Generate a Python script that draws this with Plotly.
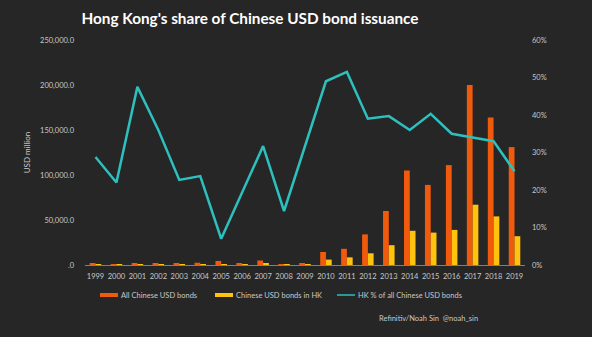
import plotly.graph_objects as go

years = [str(y) for y in range(1999, 2020)]
all_bonds = [2000, 1000, 1800, 1200, 1800, 2500, 4500, 1500, 5000, 600, 1500,
             14500, 18000, 34000, 60000, 105000, 89000, 111000, 200000, 164000, 131000]
hk_bonds = [600, 250, 800, 400, 400, 600, 300, 300, 1500, 100, 500,
            6000, 8500, 13000, 22000, 38000, 36000, 39000, 67000, 54000, 32000]
hk_pct = [28.8, 22.0, 47.5, 36.0, 22.7, 23.7, 7.0, 19.5, 31.7, 14.4, 31.5,
          49.0, 51.5, 39.0, 39.7, 36.0, 40.3, 35.0, 34.0, 33.0, 25.0]

left_ticks = [0, 50000, 100000, 150000, 200000, 250000]
left_text = [".0", "50,000.0", "100,000.0", "150,000.0", "200,000.0", "250,000.0"]
right_ticks = [0, 10, 20, 30, 40, 50, 60]
right_text = ["0%", "10%", "20%", "30%", "40%", "50%", "60%"]

ORANGE = "#F05A0C"
YELLOW = "#FFC20E"
TEAL = "#2EBFBF"
TXT = "#C8C8C8"
FONT = "Lato"

L, R, T, B, W, H = 85, 67, 40, 72, 592, 337
PW, PH = W - L - R, H - T - B


def px(x):
    return (x - L) / PW


def py(y):
    return (H - B - y) / PH


fig = go.Figure()
fig.add_trace(go.Bar(x=years, y=all_bonds, name="All Chinese USD bonds",
                     marker=dict(color=ORANGE, line=dict(width=0))))
fig.add_trace(go.Bar(x=years, y=hk_bonds, name="Chinese USD bonds in HK",
                     marker=dict(color=YELLOW, line=dict(width=0))))
fig.add_trace(go.Scatter(x=years, y=hk_pct, name="HK % of all Chinese USD bonds",
                         mode="lines", yaxis="y2",
                         line=dict(color=TEAL, width=2.5)))

fig.update_layout(
    width=W, height=H,
    paper_bgcolor="#262626", plot_bgcolor="#262626",
    margin=dict(l=L, r=R, t=T, b=B),
    barmode="group", bargap=0.45, bargroupgap=0,
    showlegend=False,
    title=dict(text="<b>Hong Kong's share of Chinese USD bond issuance</b>",
               x=250 / W, xanchor="center", y=0.945, yanchor="middle",
               font=dict(family=FONT, size=15.3, color="#FFFFFF")),
    font=dict(family=FONT, size=7, color=TXT),
    xaxis=dict(type="category", showgrid=False, showline=True, linecolor="#7F7F7F",
               linewidth=1, ticks="", ticklabelstandoff=4, tickfont=dict(size=7.5, color=TXT)),
    yaxis=dict(range=[0, 250000], tickvals=left_ticks, ticktext=left_text,
               showgrid=False, zeroline=False, showline=False, ticks="",
               ticklabelstandoff=10,
               tickfont=dict(size=7.5, color=TXT),
               title=dict(text="USD million", font=dict(size=8, color=TXT), standoff=8)),
    yaxis2=dict(range=[0, 60], tickvals=right_ticks, ticktext=right_text,
                overlaying="y", side="right", showgrid=False, zeroline=False,
                showline=False, ticks="", ticklabelstandoff=6,
                tickfont=dict(size=7.5, color=TXT)),
)

# manual legend
legend_items = [("All Chinese USD bonds", ORANGE, 100, "bar"),
                ("Chinese USD bonds in HK", YELLOW, 215, "bar"),
                ("HK % of all Chinese USD bonds", TEAL, 337, "line")]
ly = 295
for nm, col, x0, kind in legend_items:
    if kind == "bar":
        fig.add_shape(type="rect", xref="paper", yref="paper",
                      x0=px(x0), x1=px(x0 + 18), y0=py(ly + 2), y1=py(ly - 2),
                      fillcolor=col, line=dict(width=0))
    else:
        fig.add_shape(type="line", xref="paper", yref="paper",
                      x0=px(x0), x1=px(x0 + 18), y0=py(ly), y1=py(ly),
                      line=dict(color=col, width=1.5))
    fig.add_annotation(text=nm, xref="paper", yref="paper", x=px(x0 + 19), y=py(ly),
                       xanchor="left", yanchor="middle", showarrow=False,
                       font=dict(size=7.5, color=TXT))

fig.add_annotation(text="Refinitiv/Noah Sin  @noah_sin", xref="paper", yref="paper",
                   x=px(480), y=py(318), xanchor="right",
                   yanchor="middle", showarrow=False,
                   font=dict(size=7.5, color=TXT))

fig.write_html("out.html")
